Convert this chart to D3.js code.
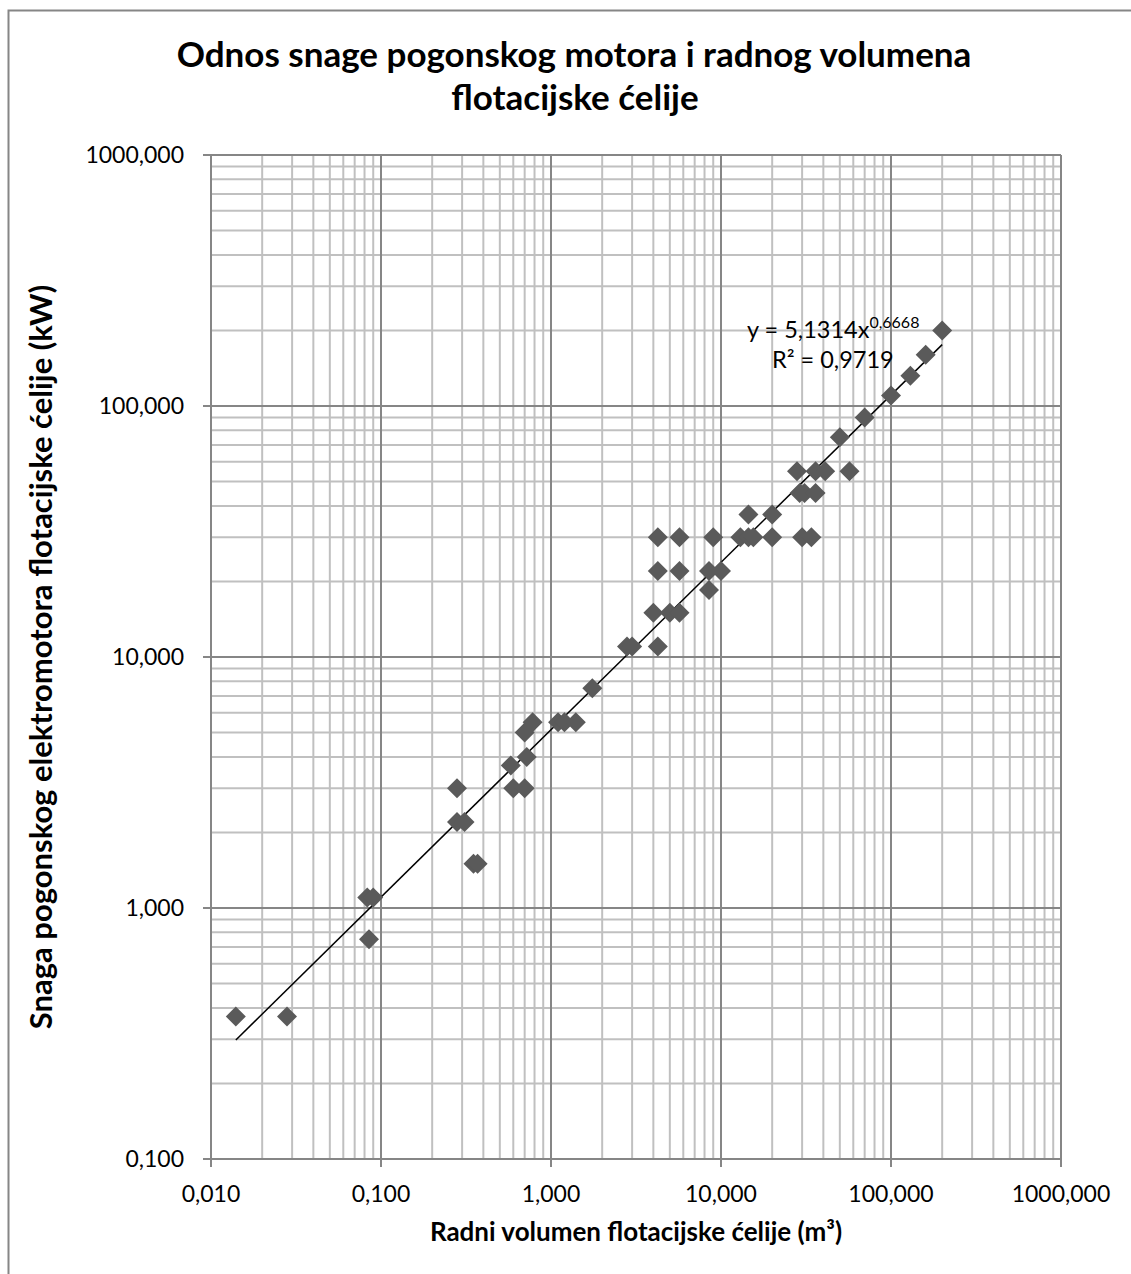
<!DOCTYPE html>
<html>
<head>
<meta charset="utf-8">
<script src="https://cdn.jsdelivr.net/npm/d3@7"></script>
<style>
    body { margin: 0; background: #fff; }
    text { font-family: Lato, "Open Sans", sans-serif; fill: #000; }
</style>
</head>
<body>
<div id="chart"></div>
<script>
// radni volumen (m3) i snaga motora (kW), procitano sa slike
var volumen = [0.014, 0.028, 0.083, 0.09, 0.085,
    0.28, 0.28, 0.31, 0.35, 0.37,
    0.6, 0.7, 0.58, 0.72, 0.7, 0.78,
    1.1, 1.2, 1.4, 1.75, 2.8, 3.0, 4.25,
    4.0, 5.0, 5.7, 4.25, 5.7, 4.25, 5.7,
    9, 8.5, 10, 8.5, 13, 14.5, 15.5, 14.5, 20, 20,
    30, 34, 28, 29, 31, 36, 36, 41, 57, 50, 70, 100, 130, 160, 200];
var snaga = [0.37, 0.37, 1.1, 1.1, 0.75,
    3.0, 2.2, 2.2, 1.5, 1.5,
    3.0, 3.0, 3.7, 4.0, 5.0, 5.5,
    5.5, 5.5, 5.5, 7.5, 11, 11, 11,
    15, 15, 15, 22, 22, 30, 30,
    30, 22, 22, 18.5, 30, 30, 30, 37, 37, 30,
    30, 30, 55, 45, 45, 45, 55, 55, 55, 75, 90, 110, 132, 160, 200];

var xTicks = [0.01, 0.1, 1, 10, 100, 1000];
var yTicks = [0.1, 1, 10, 100, 1000];

// trend: y = a * x^b
var trendA = 5.1314, trendB = 0.6668, trendR2 = "0,9719";

(function () {
    var width = 1131, height = 1274;
    var pLeft = 211, pRight = 1061, pTop = 155, pBottom = 1159;

    var svg = d3.select("#chart")
        .append("svg")
        .attr("width", width)
        .attr("height", height)

    svg.append("rect")
        .attr("x", 8.5).attr("y", 10.5)
        .attr("width", width + 20).attr("height", height + 20)
        .attr("fill", "#fff")
        .attr("stroke", "#868686")
        .attr("stroke-width", 2)

    var x = d3.scaleLog().domain([0.01, 1000]).range([pLeft, pRight])
    var y = d3.scaleLog().domain([0.1, 1000]).range([pBottom, pTop])

    function fmt(v) {
        return d3.format(".3f")(v).replace(".", ",")
    }

    function minors(ticks) {
        var out = []
        for (var i = 0; i < ticks.length - 1; i++) {
            for (var k = 2; k <= 9; k++) out.push(ticks[i] * k)
        }
        return out
    }

    var grid = svg.append("g")

    grid.selectAll(".xminor")
        .data(minors(xTicks))
        .enter().append("line")
        .attr("x1", d => x(d)).attr("x2", d => x(d))
        .attr("y1", pTop).attr("y2", pBottom)
        .attr("stroke", "#c0c0c0").attr("stroke-width", 2)

    grid.selectAll(".yminor")
        .data(minors(yTicks))
        .enter().append("line")
        .attr("y1", d => y(d)).attr("y2", d => y(d))
        .attr("x1", pLeft).attr("x2", pRight)
        .attr("stroke", "#c0c0c0").attr("stroke-width", 2)

    grid.selectAll(".xmajor")
        .data(xTicks)
        .enter().append("line")
        .attr("x1", d => x(d)).attr("x2", d => x(d))
        .attr("y1", pTop).attr("y2", pBottom + 8)
        .attr("stroke", "#868686").attr("stroke-width", 2)

    grid.selectAll(".ymajor")
        .data(yTicks)
        .enter().append("line")
        .attr("y1", d => y(d)).attr("y2", d => y(d))
        .attr("x1", pLeft - 8).attr("x2", pRight)
        .attr("stroke", "#868686").attr("stroke-width", 2)

    // tick labels
    svg.selectAll(".xlab")
        .data(xTicks)
        .enter().append("text")
        .attr("x", d => x(d))
        .attr("y", 1202)
        .attr("text-anchor", "middle")
        .style("font-size", "23px")
        .text(fmt)

    svg.selectAll(".ylab")
        .data(yTicks)
        .enter().append("text")
        .attr("x", 184)
        .attr("y", d => y(d) + 8)
        .attr("text-anchor", "end")
        .style("font-size", "23px")
        .text(fmt)

    // trend line
    var trendPts = d3.extent(volumen).map(v => [v, trendA * Math.pow(v, trendB)])
    svg.append("line")
        .attr("x1", x(trendPts[0][0])).attr("y1", y(trendPts[0][1]))
        .attr("x2", x(trendPts[1][0])).attr("y2", y(trendPts[1][1]))
        .attr("stroke", "#000").attr("stroke-width", 1.5)

    // markers
    var pts = volumen.map((v, i) => ({x: v, y: snaga[i]}))
    svg.selectAll(".pt")
        .data(pts)
        .enter().append("path")
        .attr("d", "M0,-10L10,0L0,10L-10,0Z")
        .attr("transform", d => "translate(" + x(d.x) + "," + y(d.y) + ")")
        .attr("fill", "#5a5a5a")

    // trend equation
    var eq = svg.append("text")
        .attr("x", 747).attr("y", 338)
        .style("font-size", "23.5px")
    eq.append("tspan").text("y = 5,1314x")
    eq.append("tspan").attr("dy", -10).style("font-size", "16px").text("0,6668")

    svg.append("text")
        .attr("x", 772).attr("y", 368)
        .style("font-size", "23.5px")
        .text("R² = " + trendR2)

    // title
    svg.append("text")
        .attr("x", 574).attr("y", 67)
        .attr("text-anchor", "middle")
        .style("font-size", "35px").style("font-weight", "bold")
        .text("Odnos snage pogonskog motora i radnog volumena")
    svg.append("text")
        .attr("x", 575).attr("y", 110)
        .attr("text-anchor", "middle")
        .style("font-size", "35px").style("font-weight", "bold")
        .text("flotacijske ćelije")

    // axis titles
    svg.append("text")
        .attr("x", 636).attr("y", 1241)
        .attr("text-anchor", "middle")
        .style("font-size", "26px").style("font-weight", "bold")
        .text("Radni volumen flotacijske ćelije (m³)")

    svg.append("text")
        .attr("transform", "translate(52," + ((pTop + pBottom) / 2) + ") rotate(-90)")
        .attr("text-anchor", "middle")
        .style("font-size", "31px").style("font-weight", "bold")
        .text("Snaga pogonskog elektromotora flotacijske ćelije (kW)")
})()
</script>
</body>
</html>
